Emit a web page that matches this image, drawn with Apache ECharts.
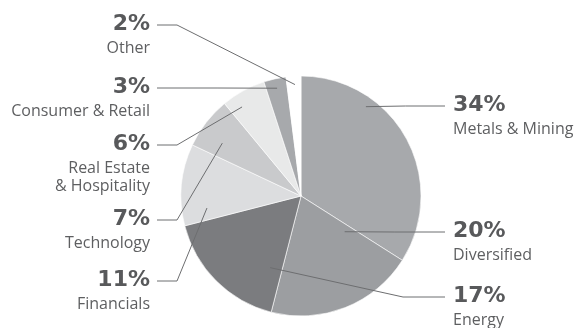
<!DOCTYPE html>
<html>
<head>
<meta charset="utf-8">
<script src="https://cdn.jsdelivr.net/npm/echarts@6/dist/echarts.min.js"></script>
<style>
  html, body { margin: 0; padding: 0; background: #fff; }
  #chart { width: 577px; height: 328px; }
</style>
</head>
<body>
<div id="chart"></div>
<script>
// Portfolio breakdown by sector (share of total, %)
const sectors = ['Metals & Mining', 'Diversified', 'Energy', 'Financials', 'Technology', 'Real Estate\n& Hospitality', 'Consumer & Retail', 'Other'];
const shares = [34, 20, 17, 11, 7, 6, 3, 2];
const sliceColors = ['#a7a9ac', '#9c9ea1', '#7b7c7f', '#dcdddf', '#c9cacc', '#e8e9e9', '#a7a9ac', '#ffffff'];

// Pie geometry
const CX = 301, CY = 196, R = 120;

// Leader-line styling per slice: where the line starts inside the slice
// (angle clockwise from 12 o'clock, fraction of radius), which side the
// label sits on, the label's line height and an optional elbow.
const leaders = [
  { side: 'right', ang: 36,    frac: 0.92, y: 106 },
  { side: 'right', ang: 129.3, frac: 0.47, y: 232 },
  { side: 'right', ang: 203.3, frac: 0.65, y: 297, elbowX: 403 },
  { side: 'left',  ang: 262.7, frac: 0.79, y: 281, elbowX: 177 },
  { side: 'left',  ang: 303.9, frac: 0.79, y: 220, elbowX: 177 },
  { side: 'left',  ang: 326.5, frac: 0.89, y: 145, elbowX: 177 },
  { side: 'left',  ang: 347.5, frac: 0.92, y: 88 },
  { side: 'left',  ang: 356.9, frac: 0.93, y: 25,  elbowX: 177 }
];
const LEFT_LINE_X = 157, RIGHT_LINE_X = 445;
const LEFT_TEXT_X = 150, RIGHT_TEXT_X = 453;

const pieData = sectors.map((name, i) => ({ name: name, value: shares[i] }));

const chart = echarts.init(document.getElementById('chart'), null, { renderer: 'canvas' });

chart.setOption({
  animation: false,
  backgroundColor: '#ffffff',
  series: [
    // the filled slices
    {
      type: 'pie',
      z: 2,
      silent: true,
      center: [CX, CY],
      radius: [0, R],
      startAngle: 90,
      clockwise: true,
      data: pieData.map((d, i) => ({ ...d, itemStyle: { color: sliceColors[i] } })),
      itemStyle: { borderColor: '#ffffff', borderWidth: 0.6 },
      label: { show: false },
      labelLine: { show: false }
    },
    // same slices, transparent, carrying labels and leader lines on top
    {
      type: 'pie',
      z: 3,
      silent: true,
      center: [CX, CY],
      radius: [0, R],
      startAngle: 90,
      clockwise: true,
      avoidLabelOverlap: false,
      data: pieData,
      itemStyle: { color: 'rgba(0,0,0,0)', borderWidth: 0 },
      label: {
        show: true,
        position: 'outer',
        formatter: (p) => {
          const lines = p.name.split('\n').map(s => '{n|' + s + '}').join('\n');
          return '{p|' + p.value + '%}\n' + lines;
        },
        rich: {
          p: { fontFamily: 'DejaVu Sans', fontWeight: 'bold', fontSize: 22, lineHeight: 30, color: '#58595b' },
          n: { fontFamily: 'Open Sans', fontSize: 16, lineHeight: 18, color: '#5e5f61' }
        }
      },
      labelLine: {
        show: true,
        smooth: false,
        lineStyle: { color: '#6d6e70', width: 1 }
      },
      labelLayout: (params) => {
        const L = leaders[params.dataIndex];
        const a = L.ang * Math.PI / 180;
        const anchor = [CX + R * L.frac * Math.sin(a), CY - R * L.frac * Math.cos(a)];
        const endX = L.side === 'left' ? LEFT_LINE_X : RIGHT_LINE_X;
        const elbow = L.elbowX != null ? [L.elbowX, L.y] : [(anchor[0] + endX) / 2, L.y];
        return {
          x: L.side === 'left' ? LEFT_TEXT_X : RIGHT_TEXT_X,
          y: L.y - 16,
          align: L.side === 'left' ? 'right' : 'left',
          verticalAlign: 'top',
          labelLinePoints: [anchor, elbow, [endX, L.y]]
        };
      }
    }
  ]
});
</script>
</body>
</html>
